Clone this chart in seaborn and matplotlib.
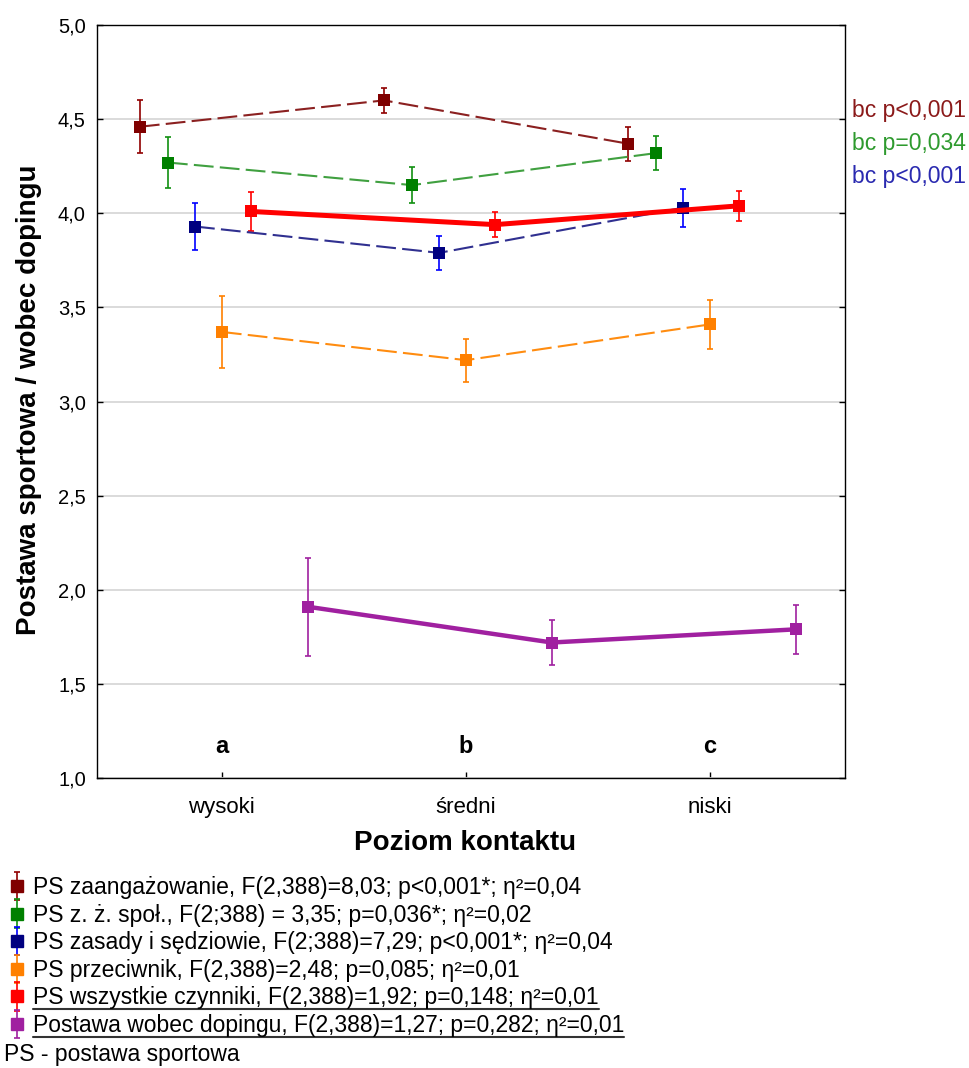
import numpy as np
import pandas as pd
import matplotlib
matplotlib.use("Agg")
import matplotlib.pyplot as plt
import seaborn as sns
from matplotlib.lines import Line2D
from matplotlib.container import ErrorbarContainer
from matplotlib.legend_handler import HandlerTuple, HandlerErrorbar

# dane
levels = ['wysoki', 'średni', 'niski']
group_letters = ['a', 'b', 'c']

zaang = [4.46, 4.60, 4.37]
zaang_err = [0.14, 0.065, 0.09]
spol = [4.27, 4.15, 4.32]
spol_err = [0.135, 0.095, 0.09]
zasady = [3.93, 3.79, 4.03]
zasady_err = [0.125, 0.09, 0.10]
przeciw = [3.37, 3.22, 3.41]
przeciw_err = [0.19, 0.115, 0.13]
wszystkie = [4.01, 3.94, 4.04]
wszystkie_err = [0.105, 0.065, 0.08]
doping = [1.91, 1.72, 1.79]
doping_err = [0.26, 0.12, 0.13]

labels = [
    'PS zaangażowanie, F(2,388)=8,03; p<0,001*; η²=0,04',
    'PS z. ż. społ., F(2;388) = 3,35; p=0,036*; η²=0,02',
    'PS zasady i sędziowie, F(2;388)=7,29; p<0,001*; η²=0,04',
    'PS przeciwnik, F(2,388)=2,48; p=0,085; η²=0,01',
    'PS wszystkie czynniki, F(2,388)=1,92; p=0,148; η²=0,01',
    'Postawa wobec dopingu, F(2,388)=1,27; p=0,282; η²=0,01',
]
posthoc = ['bc p<0,001', 'bc p=0,034', 'bc p<0,001']
posthoc_colors = ['#8b1a1a', '#2e9a2e', '#2a2ab0']

series = [zaang, spol, zasady, przeciw, wszystkie, doping]
errors = [zaang_err, spol_err, zasady_err, przeciw_err, wszystkie_err, doping_err]

# styl: kolor linii, kolor znacznika, kolor słupka błędu, styl linii, grubość, przesunięcie
dash = (0, (9.5, 3))
styles = [
    ('#8b2020', '#800000', '#900000', dash, 1.5, -0.336),
    ('#40a040', '#008000', '#109010', dash, 1.5, -0.221),
    ('#303090', '#000080', '#0000ff', dash, 1.5, -0.110),
    ('#ff8c10', '#ff8000', '#ff8000', dash, 1.5, 0.0),
    ('#ff0000', '#ff0000', '#ff0000', '-', 3.6, 0.120),
    ('#a020a0', '#a020a0', '#a020a0', '-', 3.2, 0.352),
]

sns.set_theme(style="ticks")
plt.rcParams['font.family'] = ['Liberation Sans', 'DejaVu Sans']
plt.rcParams['text.color'] = 'black'
plt.rcParams['axes.labelcolor'] = 'black'

fig = plt.figure(figsize=(9.69, 10.68), dpi=100)
ax = fig.add_axes([0.100, 0.2715, 0.772, 0.705])

handles = []
for vals, errs, (lc, mc, ec, ls, lw, off) in zip(series, errors, styles):
    x = np.arange(len(levels)) + off
    df = pd.DataFrame({'x': x, 'y': vals})
    eb = ax.errorbar(x, vals, yerr=errs, fmt='none', ecolor=ec, elinewidth=1.2,
                     capsize=2.5, capthick=1.2, zorder=3)
    sns.lineplot(data=df, x='x', y='y', ax=ax, color=lc, linestyle=ls, lw=lw,
                 marker='s', markersize=8, markerfacecolor=mc, markeredgecolor=mc,
                 markeredgewidth=0, errorbar=None, legend=False, zorder=4)
    mk = Line2D([], [], marker='s', ls='none', color=mc, markersize=8.5)
    handles.append((eb, mk))

ax.set_xlim(-0.512, 2.553)
ax.set_ylim(1.0, 5.0)
ax.set_xticks(range(len(levels)))
ax.set_xticklabels(levels)
ax.set_yticks(np.arange(1.0, 5.01, 0.5))
ax.yaxis.set_major_formatter(plt.FuncFormatter(lambda v, p: f'{v:.1f}'.replace('.', ',')))
ax.yaxis.grid(True, color='#d8d8d8', lw=1.3)
ax.set_axisbelow(True)
ax.tick_params(axis='both', direction='in', length=4, width=1, colors='black', right=True)
ax.tick_params(axis='x', pad=14, labelsize=16)
ax.tick_params(axis='y', pad=8, labelsize=14.5)
for sp in ax.spines.values():
    sp.set_visible(True)
    sp.set_color('black')
    sp.set_linewidth(1.0)

for i, letter in enumerate(group_letters):
    ax.text(i, 1.17, letter, ha='center', va='center', fontsize=17, fontweight='bold')

ax.set_xlabel('Poziom kontaktu', fontsize=20, fontweight='bold')
ax.set_ylabel('Postawa sportowa / wobec dopingu', fontsize=20, fontweight='bold')
ax.xaxis.set_label_coords(0.492, -0.069)
ax.yaxis.set_label_coords(-0.074, 0.502)

for j, (txt, c) in enumerate(zip(posthoc, posthoc_colors)):
    fig.text(852 / 969, 1 - (111 + 32.5 * j) / 1068, txt, color=c, fontsize=16.5,
             ha='left', va='center')

leg = fig.legend(handles, labels, loc='upper left', bbox_to_anchor=(0.008, 1 - 876 / 1068),
                 frameon=False,
                 handler_map={tuple: HandlerTuple(ndivide=1),
                              ErrorbarContainer: HandlerErrorbar(xerr_size=0.3, yerr_size=0.62)},
                 handlelength=0.8, handletextpad=0.3, labelspacing=0.2,
                 borderpad=0, borderaxespad=0, fontsize=16.5)
fig.text(0.004, 1 - 1055 / 1068, 'PS - postawa sportowa', fontsize=16.5, va='center', ha='left')

# podkreślenie dwóch ostatnich wpisów legendy
fig.canvas.draw()
inv = fig.transFigure.inverted()
for t in leg.get_texts()[4:]:
    bb = t.get_window_extent()
    (x0, y0), (x1, y1) = inv.transform([[bb.x0, bb.y0], [bb.x1, bb.y1]])
    fig.add_artist(Line2D([x0, x1], [y0, y0], transform=fig.transFigure,
                          color='#333333', lw=1.5))

fig.savefig('out.png', dpi=100)
